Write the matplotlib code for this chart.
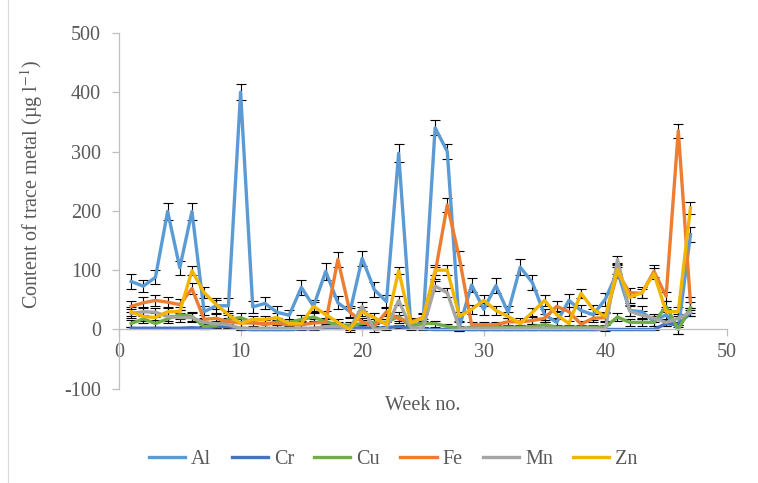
import numpy as np
import matplotlib
matplotlib.use("Agg")
import matplotlib.pyplot as plt
from matplotlib.patches import Rectangle

plt.rcParams['font.family'] = ['Liberation Serif', 'DejaVu Serif']
plt.rcParams['axes.unicode_minus'] = False
plt.rcParams['mathtext.fontset'] = 'stix'

weeks = list(range(1, 48))

# mean contents per week
al = [81, 73, 88, 199, 104, 199, 30, 40, 40, 400, 38, 44, 29, 24, 71, 39, 98, 45, 30, 120,
      67, 47, 297, 8, 10, 340, 300, 5, 75, 34, 74, 29, 105, 79, 25, 12, 49, 32, 25, 51,
      98, 32, 30, 14, 25, 0, 160]
cr = [2, 2, 2, 2, 2, 3, 2, 5, 5, 1, 0, 0, 0, 0, 1, 1, 2, 2, 2, 3,
      2, 3, 5, 2, 1, 0, 0, 0, 0, 0, 0, 0, 0, 0, 0, 0, 0, 0, 0, 0,
      0, 0, 0, 0, 10, 8, 28]
cu = [10, 18, 10, 18, 25, 22, 5, 7, 17, 20, 12, 8, 13, 12, 17, 21, 13, 8, 7, 10,
      12, 12, 22, 5, 10, 10, 5, 2, 3, 3, 4, 4, 4, 5, 8, 4, 4, 4, 4, 4,
      21, 12, 12, 12, 39, 0, 37]
fe = [39, 45, 49, 46, 42, 69, 17, 19, 13, 11, 11, 10, 10, 8, 8, 11, 12, 118, 29, 13,
      5, 30, 18, 13, 20, 95, 210, 120, 8, 8, 8, 13, 13, 15, 19, 39, 30, 9, 19, 20,
      96, 62, 61, 98, 56, 335, 45]
mn = [27, 30, 29, 22, 20, 20, 12, 10, 8, 2, 2, 2, 2, 2, 2, 2, 5, 5, 2, 39,
      0, 2, 49, 3, 2, 73, 62, 2, 2, 2, 2, 2, 2, 2, 2, 2, 2, 2, 2, 0,
      118, 31, 24, 19, 12, 19, 29]
zn = [30, 22, 20, 30, 30, 99, 62, 42, 25, 10, 17, 17, 20, 10, 10, 39, 25, 12, 0, 30,
      20, 8, 99, 11, 19, 100, 100, 22, 34, 49, 32, 22, 10, 29, 49, 25, 10, 61, 34, 22,
      101, 54, 62, 94, 30, 30, 205]

# error bar half-widths
al_err = [12, 10, 12, 15, 12, 14, 10, 13, 13, 13, 10, 10, 10, 9, 13, 10, 14, 11, 10, 13,
          13, 11, 15, 8, 8, 13, 12, 8, 12, 10, 12, 10, 13, 12, 9, 8, 11, 10, 9, 11,
          12, 10, 10, 8, 9, 8, 13]
cr_err = [2, 2, 2, 2, 2, 2, 2, 3, 3, 2, 1, 1, 1, 1, 1, 1, 2, 2, 2, 2,
          2, 2, 3, 2, 1, 1, 1, 1, 1, 1, 1, 1, 1, 1, 1, 1, 1, 1, 1, 1,
          1, 1, 1, 1, 4, 4, 5]
cu_err = [6, 7, 6, 7, 8, 7, 4, 5, 7, 7, 6, 5, 6, 6, 7, 7, 6, 5, 5, 6,
          6, 6, 7, 4, 5, 5, 4, 3, 3, 3, 3, 3, 3, 4, 5, 3, 3, 3, 3, 3,
          7, 6, 6, 6, 9, 8, 9]
fe_err = [9, 9, 9, 9, 9, 10, 7, 7, 6, 6, 6, 6, 6, 5, 5, 6, 6, 12, 8, 6,
          5, 8, 7, 6, 7, 10, 12, 12, 5, 5, 5, 6, 6, 6, 7, 9, 8, 6, 7, 7,
          10, 8, 8, 10, 8, 12, 9]
mn_err = [8, 8, 8, 7, 7, 7, 6, 5, 5, 3, 3, 3, 3, 3, 3, 3, 4, 4, 3, 8,
          4, 3, 8, 4, 3, 8, 8, 4, 3, 3, 3, 3, 3, 3, 3, 3, 3, 3, 3, 3,
          6, 8, 7, 7, 6, 7, 7]
zn_err = [8, 7, 7, 8, 8, 8, 9, 8, 7, 5, 6, 6, 7, 5, 5, 8, 7, 6, 4, 8,
          7, 5, 6, 6, 7, 8, 8, 7, 8, 9, 8, 7, 5, 7, 9, 7, 5, 8, 8, 7,
          8, 9, 9, 9, 8, 8, 10]

names = ['Al', 'Cr', 'Cu', 'Fe', 'Mn', 'Zn']
series = [al, cr, cu, fe, mn, zn]
errors = [al_err, cr_err, cu_err, fe_err, mn_err, zn_err]
colors = ['#5B9BD5', '#4472C4', '#70AD47', '#ED7D31', '#A5A5A5', '#F2B600']

fig = plt.figure(figsize=(7.58, 4.83), dpi=100)
ax = fig.add_axes([0.157, 0.195, 0.802, 0.737])

for name, vals, err, col in zip(names, series, errors, colors):
    ax.errorbar(weeks, vals, yerr=err, color=col, lw=2.4, label=name,
                ecolor='black', elinewidth=0.8, capsize=3.8, capthick=0.8)

ax.set_xlim(0, 50)
ax.set_ylim(-100, 500)
ax.set_xticks(range(0, 51, 10))
ax.set_yticks(range(-100, 501, 100))

for s in ['top', 'right']:
    ax.spines[s].set_visible(False)
ax.spines['bottom'].set_position(('data', 0))
for s in ['left', 'bottom']:
    ax.spines[s].set_color('#BFBFBF')
    ax.spines[s].set_linewidth(0.9)
ax.tick_params(axis='both', colors='#BFBFBF', length=5, width=0.9,
               labelcolor='#595959', labelsize=14.5)
ax.tick_params(axis='y', pad=8)
ax.tick_params(axis='x', pad=5)

ax.set_ylabel('Content of trace metal (µg l$^{-1}$)', fontsize=14.5, color='#595959')
ax.set_xlabel('Week no.', fontsize=14.5, color='#595959')
ax.xaxis.set_label_coords(0.5, -0.02)
ax.yaxis.set_label_coords(-0.122, 0.575)

handles, labels = ax.get_legend_handles_labels()
handles = [h[0] for h in handles]
fig.legend(handles, labels, loc='center', bbox_to_anchor=(0.519, 0.048), ncol=6,
           frameon=False, fontsize=14.5, handlelength=1.8, handletextpad=0.3,
           columnspacing=1.0, labelcolor='#595959')

fig.patches.append(Rectangle((0.011, -0.01), 0.99, 1.02, transform=fig.transFigure,
                             fill=False, edgecolor='#D9D9D9', lw=0.8))

fig.savefig('out.png', dpi=100)
